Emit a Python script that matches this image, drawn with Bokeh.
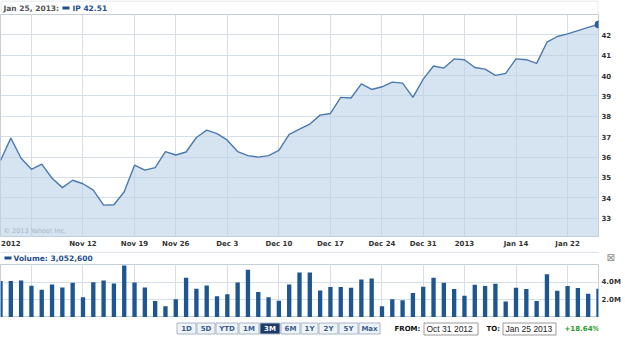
from bokeh.plotting import figure
from bokeh.layouts import column
from bokeh.models import FixedTicker, Label, PrintfTickFormatter, Range1d, LinearAxis
from bokeh.core.properties import value
from bokeh.embed import file_html
from bokeh.resources import INLINE

# ---------------- data ----------------
dates = [
    "2012-10-31", "2012-11-01", "2012-11-02", "2012-11-05", "2012-11-06", "2012-11-07",
    "2012-11-08", "2012-11-09", "2012-11-12", "2012-11-13", "2012-11-14", "2012-11-15",
    "2012-11-16", "2012-11-19", "2012-11-20", "2012-11-21", "2012-11-23", "2012-11-26",
    "2012-11-27", "2012-11-28", "2012-11-29", "2012-11-30", "2012-12-03", "2012-12-04",
    "2012-12-05", "2012-12-06", "2012-12-07", "2012-12-10", "2012-12-11", "2012-12-12",
    "2012-12-13", "2012-12-14", "2012-12-17", "2012-12-18", "2012-12-19", "2012-12-20",
    "2012-12-21", "2012-12-24", "2012-12-26", "2012-12-27", "2012-12-28", "2012-12-31",
    "2013-01-02", "2013-01-03", "2013-01-04", "2013-01-07", "2013-01-08", "2013-01-09",
    "2013-01-10", "2013-01-11", "2013-01-14", "2013-01-15", "2013-01-16", "2013-01-17",
    "2013-01-18", "2013-01-22", "2013-01-23", "2013-01-24", "2013-01-25",
]
close = [
    35.83, 36.93, 35.94, 35.40, 35.65, 34.96, 34.50, 34.86, 34.69, 34.38,
    33.64, 33.66, 34.30, 35.60, 35.36, 35.48, 36.27, 36.10, 36.25, 36.96,
    37.32, 37.15, 36.83, 36.27, 36.07, 36.00, 36.07, 36.33, 37.12, 37.37,
    37.62, 38.06, 38.14, 38.93, 38.90, 39.59, 39.32, 39.45, 39.68, 39.63,
    38.93, 39.83, 40.47, 40.37, 40.82, 40.78, 40.40, 40.32, 40.01, 40.11,
    40.82, 40.78, 40.60, 41.64, 41.92, 42.05, 42.21, 42.37, 42.51,
]
volume_m = [
    4.15, 4.15, 4.22, 3.62, 3.17, 3.77, 3.43, 3.96, 2.30, 4.03,
    4.22, 3.88, 5.92, 4.00, 3.43, 1.88, 1.28, 2.07, 4.53, 3.28,
    3.66, 2.41, 2.64, 4.00, 5.43, 2.90, 2.30, 1.92, 3.77, 5.13,
    5.13, 3.09, 3.47, 3.47, 3.40, 4.34, 4.45, 1.28, 2.07, 1.96,
    2.79, 3.51, 4.53, 3.96, 3.24, 2.49, 3.74, 3.58, 3.85, 1.81,
    3.40, 3.24, 1.88, 4.94, 3.06, 3.58, 3.35, 2.72, 3.28,
]
price_ticks = [33, 34, 35, 36, 37, 38, 39, 40, 41, 42]
grid_dates = ["2012-11-05", "2012-11-12", "2012-11-19", "2012-11-26", "2012-12-03",
              "2012-12-10", "2012-12-17", "2012-12-24", "2012-12-31", "2013-01-07",
              "2013-01-14", "2013-01-22"]
label_dates = ["2012-11-01", "2012-11-12", "2012-11-19", "2012-11-26", "2012-12-03",
               "2012-12-10", "2012-12-17", "2012-12-24", "2012-12-31", "2013-01-07",
               "2013-01-14", "2013-01-22"]
label_texts = ["2012", "Nov 12", "Nov 19", "Nov 26", "Dec 3", "Dec 10", "Dec 17",
               "Dec 24", "Dec 31", "2013", "Jan 14", "Jan 22"]
volume_ticks = [2.0, 4.0]
header_date = "Jan 25, 2013:"
header_quote = "IP 42.51"
volume_text = "Volume: 3,052,600"
range_buttons = ["1D", "5D", "YTD", "1M", "3M", "6M", "1Y", "2Y", "5Y", "Max"]
selected_button = "3M"
from_text = "Oct 31 2012"
to_text = "Jan 25 2013"
change_text = "+18.64%"

# ---------------- styling ----------------
FONT = "DejaVu Sans"
GRID = "#d6dee7"
OUTLINE = "#c5cfd9"
LINE = "#4a79ae"
FILL = "#b9d2e6"
BAR = "#1d5690"
DARKBLUE = "#1f4e8c"
W = 625
RB = 27          # right border holding the value axes
FW = W - RB      # frame width shared by every panel

idx = list(range(len(dates)))
pos = {d: i for i, d in enumerate(dates)}
y_lo, y_hi = 32.1, 43.0


def strip(h):
    """A blank panel in page pixels (y grows downward) for the widget rows."""
    s = figure(width=W, height=h, x_range=Range1d(0, FW), y_range=Range1d(h, 0),
               x_axis_location=None, y_axis_location=None,
               output_backend="svg", toolbar_location=None,
               min_border_left=0, min_border_right=RB, min_border_top=0,
               min_border_bottom=0)
    s.grid.visible = False
    s.outline_line_color = None
    s.background_fill_color = "white"
    s.border_fill_color = "white"
    return s


def txt(s, x, y, t, size="7px", bold=True, color="#333333", align="left",
        font=FONT):
    s.text(x=[x], y=[y], text=[t], text_font=value(font), text_font_size=size,
           text_font_style="bold" if bold else "normal", text_color=color,
           text_align=align, text_baseline="middle")


def style_value_axis(ax, size="7px", color="#333333", standoff=3, bold=True):
    ax.axis_line_color = None
    ax.major_tick_line_color = None
    ax.minor_tick_line_color = None
    ax.major_tick_out = 0
    ax.major_tick_in = 0
    ax.major_label_standoff = standoff
    ax.major_label_text_font = FONT
    ax.major_label_text_font_size = size
    ax.major_label_text_font_style = "bold" if bold else "normal"
    ax.major_label_text_color = color


# ---------------- header row ----------------
p0 = strip(14)
p0.quad(left=[0.5], right=[FW - 0.5], top=[0.5], bottom=[14.5], fill_color=None,
        line_color="#dde3ea", line_width=1)
txt(p0, 3, 7.5, header_date, size="7.5px", color="#555555")
p0.quad(left=[62], right=[69], top=[6], bottom=[9], fill_color=DARKBLUE, line_color=None)
txt(p0, 72, 7.5, header_quote, size="7.5px", color=DARKBLUE)

# ---------------- price panel ----------------
p1 = figure(width=W, height=237, x_range=Range1d(idx[0], idx[-1]),
            y_range=Range1d(y_lo, y_hi), y_axis_location="right",
            output_backend="svg", toolbar_location=None,
            min_border_left=0, min_border_right=RB, min_border_top=0,
            min_border_bottom=15)
p1.background_fill_color = "white"
p1.border_fill_color = "white"
p1.outline_line_color = OUTLINE

p1.varea(x=idx, y1=[y_lo] * len(idx), y2=close, fill_color=FILL, fill_alpha=0.6)
p1.line(idx, close, line_color=LINE, line_width=1.4)
p1.scatter([idx[-1]], [close[-1]], size=7, fill_color="#2b5f99", line_color="#2b5f99")

p1.xaxis.ticker = FixedTicker(ticks=[pos[d] for d in label_dates])
p1.xaxis.major_label_overrides = {pos[d]: t for d, t in zip(label_dates, label_texts)}
p1.xgrid.ticker = FixedTicker(ticks=[pos[d] for d in grid_dates])
p1.yaxis.ticker = FixedTicker(ticks=price_ticks)
p1.ygrid.ticker = FixedTicker(ticks=price_ticks)
style_value_axis(p1.xaxis[0])
style_value_axis(p1.yaxis[0])
p1.yaxis.formatter = PrintfTickFormatter(format="%d")
for g in (p1.xgrid[0], p1.ygrid[0]):
    g.grid_line_color = GRID
    g.grid_line_width = 1

p1.add_layout(Label(x=3, y=6, x_units="screen", y_units="screen",
                    text="\u00a9 2013 Yahoo! Inc.", text_font=FONT,
                    text_font_size="6.5px", text_color="#a3b4c6",
                    text_baseline="middle"))

# ---------------- volume header row ----------------
pv = strip(13)
pv.quad(left=[0], right=[FW + 2], top=[0], bottom=[1.5], fill_color="#e3e6ea",
        line_color=None)
pv.quad(left=[4], right=[11], top=[5], bottom=[8], fill_color=DARKBLUE, line_color=None)
txt(pv, 13, 6.5, volume_text, size="7.5px", color=DARKBLUE)
close_ax = LinearAxis(ticker=FixedTicker(ticks=[6.0]),
                      formatter=PrintfTickFormatter(format="\u22a0"))
style_value_axis(close_ax, size="10px", color="#8a8a8a", standoff=8, bold=False)
pv.add_layout(close_ax, "right")

# ---------------- volume panel ----------------
p2 = figure(width=W, height=53, x_range=p1.x_range,
            y_range=Range1d(0, 6.04), y_axis_location="right",
            x_axis_location=None,
            output_backend="svg", toolbar_location=None,
            min_border_left=0, min_border_right=RB, min_border_top=0,
            min_border_bottom=0)
p2.background_fill_color = "white"
p2.border_fill_color = "white"
p2.outline_line_color = OUTLINE

p2.vbar(x=idx, top=volume_m, width=0.42, fill_color=BAR, line_color=None)
p2.xgrid.ticker = FixedTicker(ticks=[pos[d] for d in grid_dates])
p2.ygrid.ticker = FixedTicker(ticks=volume_ticks)
for g in (p2.xgrid[0], p2.ygrid[0]):
    g.grid_line_color = GRID
ya = p2.yaxis[0]
ya.ticker = FixedTicker(ticks=volume_ticks)
ya.formatter = PrintfTickFormatter(format="%.1fM")
style_value_axis(ya)

# ---------------- range selector row ----------------
pb = strip(20)
btn_edges = [176, 196, 215, 238, 259, 280, 300, 318, 338, 358, 380]
lefts = [e + 0.5 for e in btn_edges[:-1]]
rights = [e - 0.5 for e in btn_edges[1:]]
sel = [b == selected_button for b in range_buttons]
pb.quad(left=lefts, right=rights, top=[5.5] * len(lefts), bottom=[16.5] * len(lefts),
        fill_color=["#1c3b68" if s else "#eef3f8" for s in sel],
        line_color="#a8b6c6", line_width=1)
pb.text(x=[(l + r) / 2 for l, r in zip(lefts, rights)], y=[11.2] * len(lefts),
        text=range_buttons, text_font=value(FONT), text_font_size="7px",
        text_font_style="bold",
        text_color=["white" if s else "#3a5c8c" for s in sel],
        text_align="center", text_baseline="middle")
txt(pb, 394, 11.2, "FROM:", color="#111111")
pb.quad(left=[423.5], right=[477.5], top=[5.5], bottom=[17.5], fill_color="white",
        line_color="#999999", line_width=1)
txt(pb, 426, 11.5, from_text, size="8.5px", bold=False, color="#222222",
    font="Liberation Sans")
txt(pb, 486, 11.2, "TO:", color="#111111")
pb.quad(left=[502.5], right=[555.5], top=[5.5], bottom=[17.5], fill_color="white",
        line_color="#999999", line_width=1)
txt(pb, 505, 11.5, to_text, size="8.5px", bold=False, color="#222222",
    font="Liberation Sans")
txt(pb, 564, 11.2, change_text, color="#2a9a2a")

layout = column(p0, p1, pv, p2, pb, spacing=0)
open("out.html", "w").write(file_html(layout, INLINE))
